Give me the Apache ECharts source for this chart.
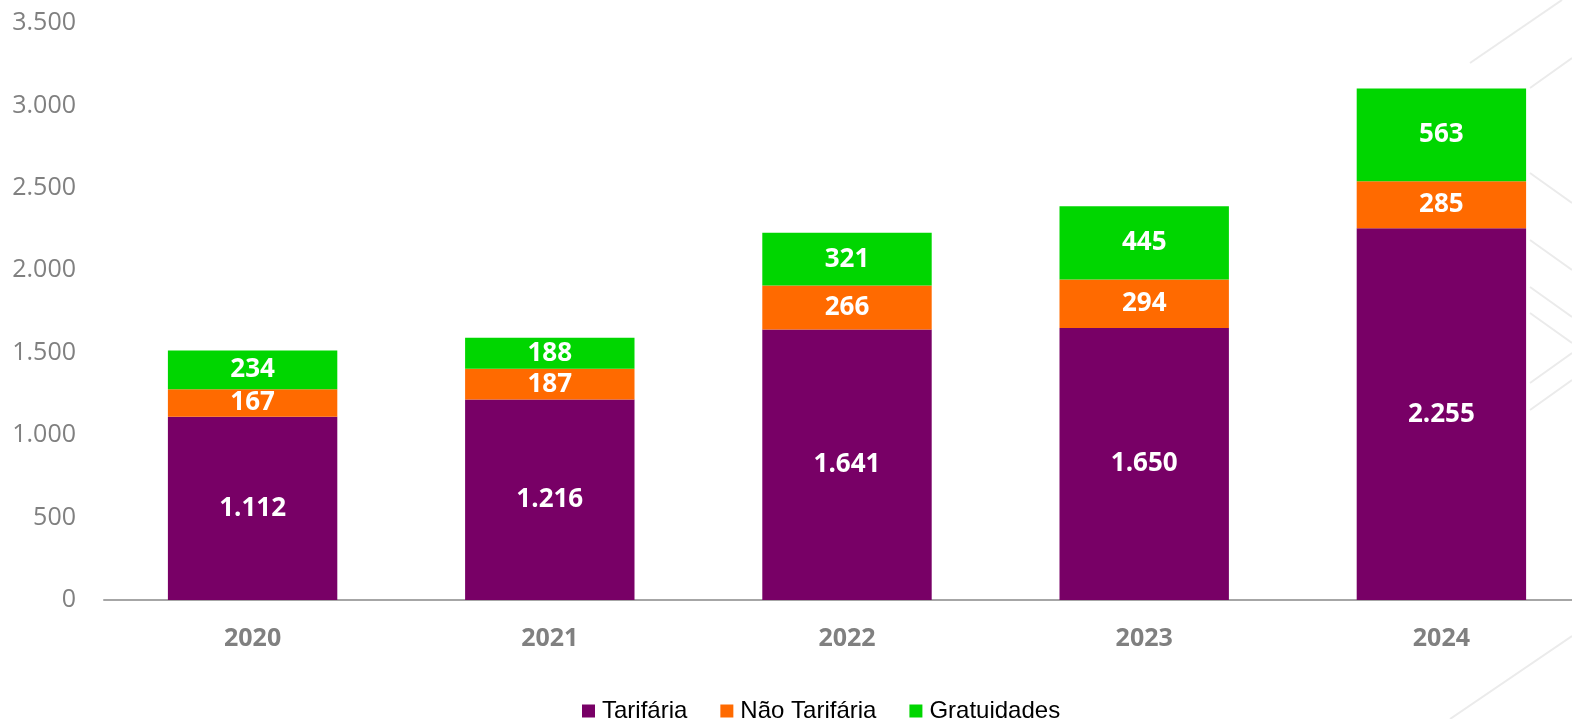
<!DOCTYPE html>
<html>
<head>
<meta charset="utf-8">
<title>Passageiros por tipo</title>
<script src="https://cdn.jsdelivr.net/npm/echarts@6/dist/echarts.min.js"></script>
<style>
  html, body { margin: 0; padding: 0; background: #fff; }
  #chart { width: 1572px; height: 719px; }
</style>
</head>
<body>
<div id="chart"></div>
<script>
// dados
var anos = ["2020", "2021", "2022", "2023", "2024"];
var tarifaria = [1112, 1216, 1641, 1650, 2255];
var naoTarifaria = [167, 187, 266, 294, 285];
var gratuidades = [234, 188, 321, 445, 563];

// separador de milhar com ponto
function fmt(v) {
  return String(v).replace(/\B(?=(\d{3})+(?!\d))/g, ".");
}

var chart = echarts.init(document.getElementById("chart"));

// linhas decorativas do fundo (canto direito)
var deco = [
  [1470, 63, 1562, 0], [1530, 88, 1572, 58],
  [1530, 173, 1572, 203], [1530, 240, 1572, 270],
  [1530, 287, 1572, 317], [1530, 313, 1572, 343],
  [1530, 383, 1572, 353], [1530, 410, 1572, 380],
  [1450, 719, 1572, 636]
];

var labelStyle = {
  show: true,
  position: "inside",
  color: "#fff",
  fontWeight: "bold",
  fontSize: 26,
  fontFamily: "Open Sans",
  formatter: function (p) { return fmt(p.value); }
};

var option = {
  backgroundColor: "#fff",
  animation: false,
  graphic: deco.map(function (d) {
    return {
      type: "line",
      z: -10,
      silent: true,
      shape: { x1: d[0], y1: d[1], x2: d[2], y2: d[3] },
      style: { stroke: "#ebebeb", lineWidth: 2 }
    };
  }),
  legend: {
    top: 694,
    left: 577,
    itemWidth: 13,
    itemHeight: 13,
    itemGap: 33,
    icon: "rect",
    textStyle: { fontSize: 24, color: "#000", fontFamily: "Liberation Sans", padding: [0, 0, 0, 2] },
    data: ["Tarifária", "Não Tarifária", "Gratuidades"]
  },
  grid: {
    left: 104,
    top: 23,
    bottom: 119,
    width: 1486,
    outerBoundsMode: "none"
  },
  xAxis: {
    type: "category",
    data: anos,
    axisLine: { lineStyle: { color: "#a6a6a6", width: 2 } },
    axisTick: { show: false },
    axisLabel: {
      color: "#808080",
      fontSize: 25,
      fontWeight: "bold",
      fontFamily: "Open Sans",
      margin: 26
    }
  },
  yAxis: {
    type: "value",
    min: 0,
    max: 3500,
    interval: 500,
    splitLine: { show: false },
    axisLine: { show: false },
    axisTick: { show: false },
    axisLabel: {
      color: "#808080",
      fontSize: 25,
      fontFamily: "Open Sans",
      margin: 28,
      formatter: function (v) { return fmt(v); }
    }
  },
  series: [
    {
      name: "Tarifária",
      type: "bar",
      stack: "total",
      barWidth: "57%",
      itemStyle: { color: "#780066" },
      label: labelStyle,
      data: tarifaria
    },
    {
      name: "Não Tarifária",
      type: "bar",
      stack: "total",
      itemStyle: { color: "#ff6a00" },
      label: labelStyle,
      data: naoTarifaria
    },
    {
      name: "Gratuidades",
      type: "bar",
      stack: "total",
      itemStyle: { color: "#00d600" },
      label: labelStyle,
      data: gratuidades
    }
  ]
};

chart.setOption(option);
</script>
</body>
</html>
